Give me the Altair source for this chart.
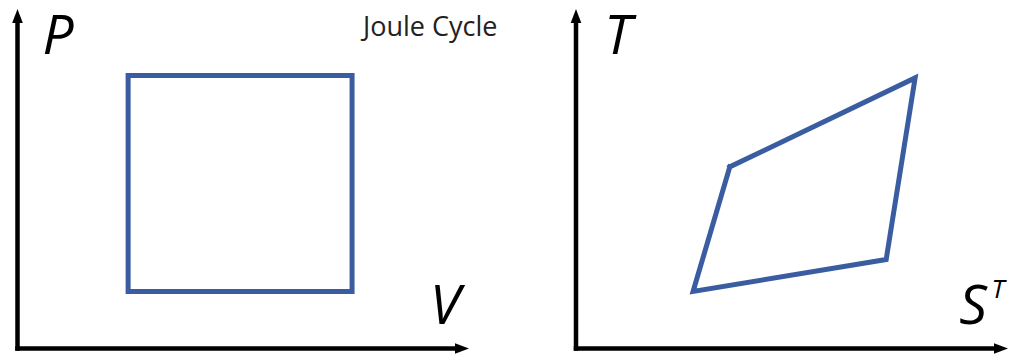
import altair as alt
import pandas as pd

# ---- data ----
# Left panel: P-V diagram (Joule cycle rectangle)
pv_V = [2.45, 7.41, 7.41, 2.45, 2.45]
pv_P = [8.04, 8.04, 1.68, 1.68, 8.04]
# Right panel: T-S diagram
ts_S = [3.56, 7.85, 7.18, 2.71, 3.56]
ts_T = [5.35, 7.97, 2.62, 1.68, 5.35]

title_text = "Joule Cycle"
labels = ["P", "V", "T", "S", "T"]
label_panel = ["L", "L", "R", "R", "R"]
label_x = [0.90, 9.47, 0.97, 9.19, 9.77]
label_y = [8.68, 0.71, 8.66, 0.71, 1.50]
label_size = [55, 55, 55, 55, 26]

BLUE = "#3A5DA1"
LABEL_FONT = "Open Sans"


def panel(tag, xs_vals, ys_vals, xrange, width, x_tip, extra=None):
    xs = alt.Scale(domain=[0, 10], range=xrange, zero=False, nice=False)
    ys = alt.Scale(domain=[0, 10], range=[340.5, 1], zero=False, nice=False)
    X = lambda f: alt.X(f, type="quantitative", scale=xs, axis=None)
    Y = lambda f: alt.Y(f, type="quantitative", scale=ys, axis=None)

    axes_df = pd.DataFrame({"x": [0, 0], "x2": [0, x_tip - 0.3],
                            "y": [0, 0], "y2": [9.7, 0]})
    rules = alt.Chart(axes_df).mark_rule(
        color="black", strokeWidth=4.5, strokeCap="square"
    ).encode(x=X("x"), x2="x2", y=Y("y"), y2="y2")

    up_df = pd.DataFrame({"x": [0], "y": [10]})
    up = alt.Chart(up_df).mark_point(
        shape="M 0 0 L -0.38 1 L 0.38 1 Z", filled=True, size=784,
        color="black", opacity=1, strokeWidth=0
    ).encode(x=X("x"), y=Y("y"))
    right_df = pd.DataFrame({"x": [x_tip], "y": [0]})
    rt = alt.Chart(right_df).mark_point(
        shape="M 0 0 L -1 -0.38 L -1 0.38 Z", filled=True, size=784,
        color="black", opacity=1, strokeWidth=0
    ).encode(x=X("x"), y=Y("y"))

    poly_df = pd.DataFrame({"x": xs_vals, "y": ys_vals, "i": list(range(len(xs_vals)))})
    poly = alt.Chart(poly_df).mark_line(
        color=BLUE, strokeWidth=5, strokeJoin="miter", strokeCap="square"
    ).encode(x=X("x"), y=Y("y"), order="i:Q")

    layers = [rules, up, rt, poly]
    for t, p, x, y, s in zip(labels, label_panel, label_x, label_y, label_size):
        if p != tag:
            continue
        df = pd.DataFrame({"t": [t], "x": [x], "y": [y]})
        layers.append(alt.Chart(df).mark_text(
            font=LABEL_FONT, fontStyle="italic", fontSize=s,
            baseline="alphabetic", align="center", color="black"
        ).encode(x=X("x"), y=Y("y"), text="t:N"))

    if extra is not None:
        layers += extra(X, Y)
    return alt.layer(*layers).properties(width=width, height=346)


def left_extra(X, Y):
    df = pd.DataFrame({"t": [title_text], "x": [9.14], "y": [9.21]})
    return [alt.Chart(df).mark_text(
        font="Open Sans", fontSize=27, baseline="alphabetic", align="center",
        color="#222222"
    ).encode(x=X("x"), y=Y("y"), text="t:N")]


left = panel("L", pv_V, pv_P, [9.5, 461], 492, 10, left_extra)
right = panel("R", ts_S, ts_T, [76, 508], 508, 10)

chart = alt.hconcat(left, right, spacing=0).properties(
    padding=0
).configure_view(stroke=None)

chart.save("out.html", embed_options={"renderer": "svg", "actions": False})
